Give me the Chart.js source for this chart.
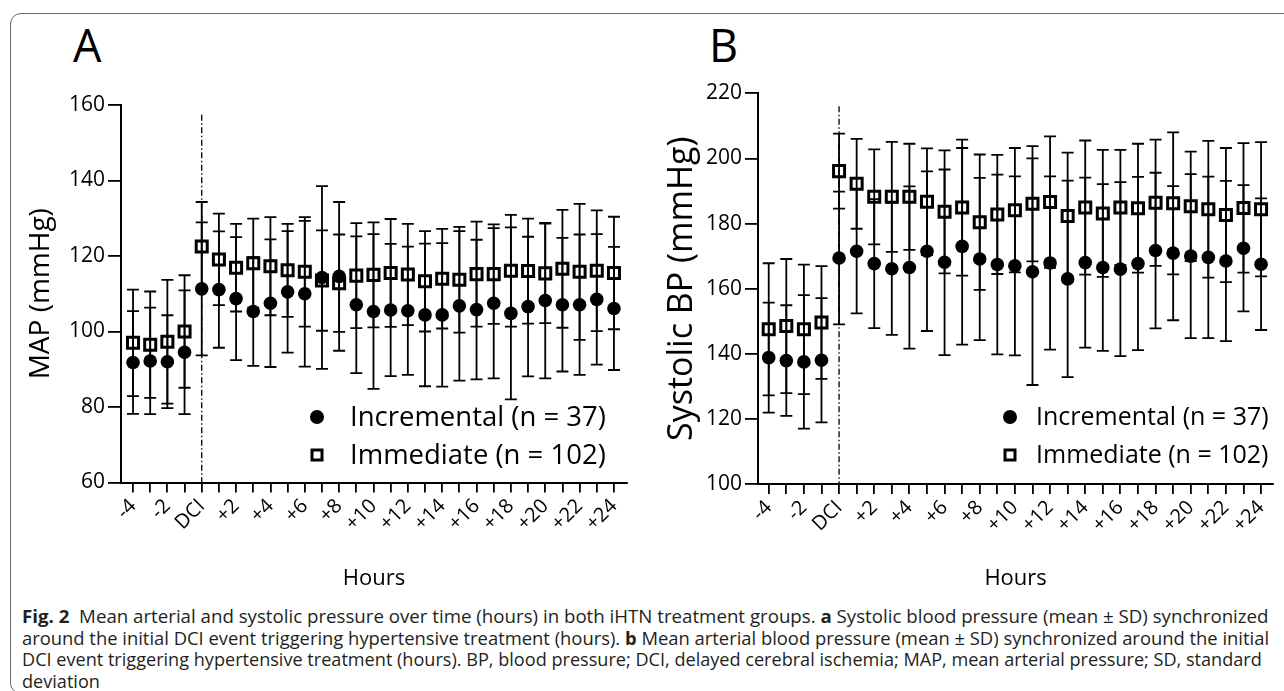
<!DOCTYPE html>
<html><head><meta charset="utf-8">
<script src="https://cdn.jsdelivr.net/npm/chart.js@4.4.1/dist/chart.umd.min.js"></script>
<style>
html,body{margin:0;padding:0;background:#fff;width:1284px;height:691px;overflow:hidden;font-family:'Open Sans',sans-serif;}
#frame{position:absolute;left:10px;top:13px;width:1300px;height:681px;border:1.5px solid #6a6a6a;border-radius:11px;box-sizing:border-box;}
.letter{position:absolute;font-size:45px;line-height:45px;color:#000;font-family:'Open Sans',sans-serif;}
#wrapA{position:absolute;left:0;top:0;width:640px;height:600px;}
#wrapB{position:absolute;left:640px;top:0;width:644px;height:600px;}
#caption{position:absolute;left:22px;top:606px;color:#231f20;font-family:'Open Sans',sans-serif;}
#caption div{line-height:21.6px;height:21.6px;white-space:nowrap;font-size:17.5px;transform-origin:0 50%;width:max-content;}
</style>
</head><body>
<div id="frame"></div>
<div class="letter" style="left:73px;top:22px;">A</div>
<div class="letter" style="left:709px;top:22px;">B</div>
<div id="wrapA"><canvas id="cA" width="640" height="600"></canvas></div>
<div id="wrapB"><canvas id="cB" width="644" height="600"></canvas></div>
<div id="caption">
<div data-w="1247"><b>Fig. 2</b>&nbsp; Mean arterial and systolic pressure over time (hours) in both iHTN treatment groups. <b>a</b> Systolic blood pressure (mean ± SD) synchronized</div>
<div data-w="1247">around the initial DCI event triggering hypertensive treatment (hours). <b>b</b> Mean arterial blood pressure (mean ± SD) synchronized around the initial</div>
<div data-w="1240">DCI event triggering hypertensive treatment (hours). BP, blood pressure; DCI, delayed cerebral ischemia; MAP, mean arterial pressure; SD, standard</div>
<div>deviation</div>
</div>
<script>
// ---- data ----
const hours = [-4,-3,-2,-1,0,1,2,3,4,5,6,7,8,9,10,11,12,13,14,15,16,17,18,19,20,21,22,23,24];
const hourLabels = ['-4','','-2','','DCI','','+2','','+4','','+6','','+8','','+10','','+12','','+14','','+16','','+18','','+20','','+22','','+24'];
const seriesNames = ['Incremental (n = 37)','Immediate (n = 102)'];

const mapIncMean = [91.8,92.2,92.0,94.5,111.3,111.1,108.7,105.3,107.5,110.5,110.0,114.3,114.6,107.1,105.3,105.7,105.5,104.4,104.4,106.8,105.8,107.5,104.8,106.6,108.2,107.1,107.1,108.5,106.1];
const mapIncSd   = [13.6,14.1,12.3,16.4,17.6,15.4,16.3,14.4,16.9,16.1,19.3,24.2,19.7,18.1,20.5,17.5,17.0,18.9,19.0,19.8,18.5,19.9,22.8,18.5,20.6,17.7,18.6,17.3,16.3];
const mapImmMean = [97.0,96.5,97.3,100.0,122.5,119.1,116.9,118.1,117.3,116.2,115.8,113.5,112.8,114.8,115.0,115.5,115.1,113.3,114.0,113.7,115.2,115.2,116.1,116.0,115.4,116.6,115.8,116.1,115.5];
const mapImmSd   = [14.1,14.1,16.4,14.9,11.8,12.1,11.6,11.8,13.0,12.3,14.5,13.3,12.9,13.9,13.9,14.3,13.4,13.3,13.2,14.0,13.9,13.2,14.8,13.9,13.2,15.6,18.0,16.0,14.9];

const sbpIncMean = [138.8,137.9,137.5,138.0,169.4,171.5,167.7,166.1,166.5,171.5,168.1,173.0,169.1,167.4,167.0,165.2,167.9,163.0,168.0,166.5,166.0,167.7,171.7,170.9,170.0,169.6,168.5,172.4,167.5];
const sbpIncSd   = [16.9,17.0,20.5,19.1,20.4,19.1,19.8,20.3,24.9,24.5,28.5,30.2,24.9,27.6,27.5,34.8,26.6,30.2,26.1,25.6,26.7,26.6,23.9,20.6,25.2,24.8,24.6,19.4,20.2];
const sbpImmMean = [147.5,148.5,147.5,149.6,196.1,192.2,188.2,188.2,188.2,186.7,183.6,184.9,180.4,182.8,184.1,186.1,186.6,182.3,184.9,183.1,184.9,184.7,186.4,186.2,185.3,184.4,182.6,184.8,184.4];
const sbpImmSd   = [20.3,20.6,19.9,17.3,11.5,13.8,14.6,16.9,16.3,16.4,18.9,20.9,20.8,18.3,19.1,17.7,20.2,19.5,20.6,19.5,17.7,19.8,19.4,21.8,16.8,21.0,20.6,19.9,20.6];

// ---- plugins ----
const errorBars = {
  id: 'errorBars',
  beforeDatasetsDraw(chart) {
    const ctx = chart.ctx, ys = chart.scales.y;
    chart.data.datasets.forEach((ds, di) => {
      const meta = chart.getDatasetMeta(di);
      ctx.save();
      ctx.strokeStyle = '#000'; ctx.lineWidth = 1.8;
      meta.data.forEach((pt, i) => {
        const m = ds.data[i].y, s = ds.sd[i];
        const yt = ys.getPixelForValue(m + s), yb = ys.getPixelForValue(m - s);
        const x = pt.x, hw = 6;
        ctx.beginPath();
        ctx.moveTo(x, yt); ctx.lineTo(x, yb);
        ctx.moveTo(x - hw, yt); ctx.lineTo(x + hw, yt);
        ctx.moveTo(x - hw, yb); ctx.lineTo(x + hw, yb);
        ctx.stroke();
      });
      ctx.restore();
    });
  }
};
const dciLine = {
  id: 'dciLine',
  beforeDatasetsDraw(chart, args, opts) {
    const ctx = chart.ctx, xs = chart.scales.x, ys = chart.scales.y;
    const x = xs.getPixelForValue(opts.value);
    ctx.save();
    ctx.strokeStyle = '#000'; ctx.lineWidth = 1.3;
    ctx.setLineDash([6, 2.5, 1.5, 2.5]);
    ctx.beginPath();
    ctx.moveTo(x, ys.getPixelForValue(opts.top));
    ctx.lineTo(x, chart.chartArea.bottom);
    ctx.stroke();
    ctx.restore();
  }
};
const innerLegend = {
  id: 'innerLegend',
  afterDraw(chart, args, o) {
    const ctx = chart.ctx;
    ctx.save();
    ctx.font = o.fontSize + "px 'Open Sans', sans-serif";
    ctx.fillStyle = '#000'; ctx.textBaseline = 'middle'; ctx.textAlign = 'left';
    chart.data.datasets.forEach((ds, i) => {
      const y = o.y + i * o.dy;
      if (ds.pointStyle === 'circle') {
        ctx.beginPath(); ctx.arc(o.x, y, 7, 0, Math.PI * 2); ctx.fill();
      } else {
        ctx.lineWidth = 3; ctx.strokeStyle = '#000';
        ctx.strokeRect(o.x - 5, y - 5, 10, 10);
      }
      ctx.fillText(ds.label, o.textX, y + 1);
    });
    ctx.restore();
  }
};

function makeChart(id, incMean, incSd, immMean, immSd, yCfg, geo) {
  const font = "'Open Sans', sans-serif";
  return new Chart(document.getElementById(id), {
    type: 'scatter',
    data: {
      datasets: [
        { label: seriesNames[0], data: hours.map((h, i) => ({x: h, y: incMean[i]})), sd: incSd,
          pointStyle: 'circle', pointRadius: 6.8, backgroundColor: '#000', borderColor: '#000', borderWidth: 0 },
        { label: seriesNames[1], data: hours.map((h, i) => ({x: h, y: immMean[i]})), sd: immSd,
          pointStyle: 'rect', pointRadius: 7.8, backgroundColor: 'rgba(0,0,0,0)', borderColor: '#000', borderWidth: 3 }
      ]
    },
    options: {
      responsive: false, animation: false, events: [],
      layout: { padding: { left: 0, right: geo.padRight, top: geo.padTop, bottom: 0 } },
      plugins: {
        legend: { display: false }, tooltip: { enabled: false },
        dciLine: { value: 0, top: yCfg.dciTop },
        innerLegend: geo.legend
      },
      scales: {
        x: {
          type: 'linear', min: geo.xMin, max: geo.xMax,
          afterBuildTicks: (axis) => { axis.ticks = hours.map(v => ({ value: v })); },
          afterFit: (axis) => { axis.height = geo.xAxisHeight; },
          ticks: { autoSkip: false, minRotation: 45, maxRotation: 45, padding: 2, color: '#000',
                   font: { family: font, size: 20 },
                   callback: (v) => hourLabels[hours.indexOf(v)] },
          grid: { display: true, drawOnChartArea: false, drawTicks: true, tickLength: 10, color: '#000', lineWidth: 1.8 },
          border: { display: true, color: '#000', width: 2 },
          title: { display: true, text: 'Hours', color: '#000', font: { family: font, size: 22 }, padding: { top: 0, bottom: 8 } }
        },
        y: {
          min: yCfg.min, max: yCfg.max,
          afterFit: (axis) => { axis.width = geo.yAxisWidth; },
          ticks: { stepSize: 20, padding: 3, color: '#000', font: { family: font, size: 21 } },
          grid: { display: true, drawOnChartArea: false, drawTicks: true, tickLength: 13, color: '#000', lineWidth: 1.8 },
          border: { display: true, color: '#000', width: 2 },
          title: { display: true, text: yCfg.title, color: '#000', font: { family: font, size: geo.titleSize }, padding: { top: geo.titlePad, bottom: 0 } }
        }
      }
    },
    plugins: [errorBars, dciLine, innerLegend]
  });
}

makeChart('cA', mapIncMean, mapIncSd, mapImmMean, mapImmSd,
  { min: 60, max: 160, title: 'MAP (mmHg)', dciTop: 157.4 },
  { padRight: 13, padTop: 105, xAxisHeight: 117.5, yAxisWidth: 121, xMin: -4.7, xMax: 24.76, titlePad: 24, titleSize: 28,
    legend: { x: 317, y: 417, dy: 38, textX: 350, fontSize: 27.5 } });

makeChart('cB', sbpIncMean, sbpIncSd, sbpImmMean, sbpImmSd,
  { min: 100, max: 220, title: 'Systolic BP (mmHg)', dciTop: 216 },
  { padRight: 5.3, padTop: 93.3, xAxisHeight: 116, yAxisWidth: 118, xMin: -4.61, xMax: 24.69, titlePad: 22, titleSize: 34,
    legend: { x: 370, y: 417, dy: 38, textX: 396, fontSize: 25 } });

// caption: scale each full line horizontally to the measured printed width
const capLines = document.querySelectorAll('#caption div');
let k = 1;
capLines.forEach((el) => {
  const w = +el.dataset.w;
  if (w) { k = w / el.scrollWidth; }
  el.style.transform = 'scaleX(' + k + ')';
});
</script>
</body></html>
